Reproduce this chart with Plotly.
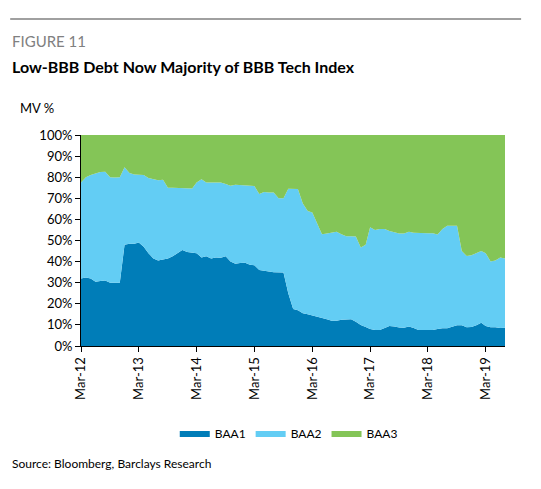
import pandas as pd
import plotly.graph_objects as go

# Monthly share of BBB tech index market value, Mar-12 .. Jul-19
months = pd.date_range("2012-03-01", "2019-07-01", freq="MS")

baa1 = [32, 32.5, 32, 30.5, 30.8, 31, 30, 30, 30, 48,
        48.5, 48.5, 49, 47, 44, 41.5, 40.5, 41, 41.5, 42.5,
        44, 45.5, 44.5, 44.3, 44, 42, 42.5, 41.5, 42, 41.8,
        42.5, 40, 39, 39.3, 39.5, 38.5, 38.3, 36, 35.5, 35.3,
        35, 35, 34.8, 25, 17.5, 17, 15.5, 15, 14.5, 14,
        13.5, 12.7, 12, 12, 12.5, 12.7, 12.7, 11.5, 10, 9,
        8, 7.6, 7.6, 8.5, 9.5, 9.3, 8.8, 8.7, 9.3, 8.5,
        7.6, 7.6, 7.6, 7.6, 8, 8.4, 8.4, 9, 9.8, 9.8,
        8.9, 9, 9.8, 11, 9.5, 8.9, 8.9, 8.5, 8.6]

baa2 = [45.5, 47.5, 49, 51.3, 51.7, 51.6, 50, 49.9, 50, 36.7,
        33.5, 32.8, 32.2, 34, 35.6, 37.5, 38.1, 37.8, 33.5, 32.5,
        31, 29.2, 30.2, 30.4, 33.5, 37, 35, 36, 35.5, 35.7,
        34.3, 36, 37.4, 36.9, 36.4, 37.3, 37.5, 36, 37.5, 37.5,
        37.8, 35, 35.2, 49.5, 57.1, 57.4, 52, 49, 48.8, 44,
        39.5, 40.6, 41.6, 42.2, 40.5, 39.3, 39.3, 40.4, 36.7, 39,
        48.3, 47.4, 47.9, 47, 45, 44.5, 44.5, 44.6, 44.9, 45.2,
        45.9, 45.9, 45.8, 45.8, 44.8, 47.1, 48.6, 48, 47.2, 35.2,
        33.8, 34, 34.2, 34, 34.5, 31.1, 31.6, 33.5, 32.9]

baa3 = [22.5, 20, 19, 18.2, 17.5, 17.4, 20, 20.1, 20, 15.3,
        18, 18.7, 18.8, 19, 20.4, 21, 21.4, 21.2, 25, 25,
        25, 25.3, 25.3, 25.3, 22.5, 21, 22.5, 22.5, 22.5, 22.5,
        23.2, 24, 23.6, 23.8, 24.1, 24.2, 24.2, 28, 27, 27.2,
        27.2, 30, 30, 25.5, 25.4, 25.6, 32.5, 36, 36.7, 42,
        47, 46.7, 46.4, 45.8, 47, 48, 48, 48.1, 53.3, 52,
        43.7, 45, 44.5, 44.5, 45.5, 46.2, 46.7, 46.7, 45.8, 46.3,
        46.5, 46.5, 46.6, 46.6, 47.2, 44.5, 43, 43, 43, 55,
        57.3, 57, 56, 55, 56, 60, 59.5, 58, 58.5]

tick_dates = pd.date_range("2012-03-01", "2019-03-01", freq="12MS")
tick_labels = ["Mar-12", "Mar-13", "Mar-14", "Mar-15", "Mar-16", "Mar-17", "Mar-18", "Mar-19"]

font = "Lato"

fig = go.Figure()
for name, vals, colour in [("BAA1", baa1, "#007db8"),
                           ("BAA2", baa2, "#63cdf4"),
                           ("BAA3", baa3, "#84c557")]:
    fig.add_trace(go.Scatter(
        x=months, y=vals, name=name, stackgroup="one", mode="lines",
        line=dict(width=0, color=colour), fillcolor=colour
    ))

fig.update_layout(
    width=541, height=489,
    margin=dict(l=73, r=44, t=127, b=151),
    paper_bgcolor="white", plot_bgcolor="white",
    font=dict(family=font, size=13, color="black"),
    showlegend=True,
    legend=dict(orientation="h", x=0.49, xanchor="center", y=-0.412, yanchor="middle",
                traceorder="normal", font=dict(size=12), itemwidth=30),
    xaxis=dict(
        range=[months[0], months[-1]],
        tickvals=tick_dates, ticktext=tick_labels, tickangle=-90,
        ticks="outside", ticklen=5, tickcolor="black",
        showline=True, linecolor="black", showgrid=False, zeroline=False
    ),
    yaxis=dict(
        range=[0, 100], dtick=10, ticksuffix="%",
        ticks="outside", ticklen=5, tickcolor="black",
        showline=True, linecolor="black", showgrid=False, zeroline=False
    ),
)

fig.add_shape(type="line", xref="paper", yref="paper", x0=-0.167, x1=1.038,
              y0=1.55, y1=1.55, line=dict(color="#808080", width=1.5))
fig.add_annotation(text="FIGURE 11", xref="paper", yref="paper", x=-0.167, y=1.445,
                   xanchor="left", yanchor="middle", showarrow=False,
                   font=dict(size=15, color="#808080"))
fig.add_annotation(text="<b>Low-BBB Debt Now Majority of BBB Tech Index</b>", xref="paper",
                   yref="paper", x=-0.167, y=1.327, xanchor="left", yanchor="middle",
                   showarrow=False, font=dict(size=16, color="black"))
fig.add_annotation(text="MV %", xref="paper", yref="paper", x=-0.149, y=1.128,
                   xanchor="left", yanchor="middle", showarrow=False, font=dict(size=13))
fig.add_annotation(text="Source: Bloomberg, Barclays Research", xref="paper", yref="paper",
                   x=-0.167, y=-0.559, xanchor="left", yanchor="middle", showarrow=False,
                   font=dict(size=12))

fig.write_html("out.html")
